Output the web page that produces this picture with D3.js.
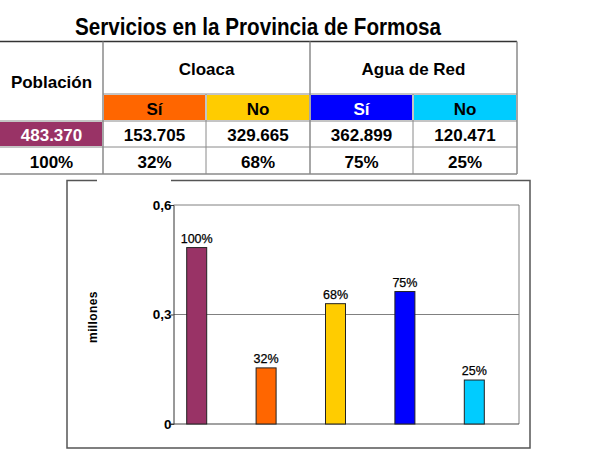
<!DOCTYPE html>
<html><head><meta charset="utf-8">
<script src="https://cdn.jsdelivr.net/npm/d3@7"></script>
<style>
html,body{margin:0;padding:0;background:#fff;}
svg{display:block;font-family:"Liberation Sans",Arial,Helvetica,sans-serif;}
</style></head>
<body>
<svg id="chart" width="606" height="452"></svg>
<script>
// ---- data ----
const title = "Servicios en la Provincia de Formosa";
const groupHeaders = ["Cloaca", "Agua de Red"];
const subHeaders = ["Sí", "No", "Sí", "No"];
const categories = ["Población", "Cloaca Sí", "Cloaca No", "Agua Sí", "Agua No"];
const values = [483370, 153705, 329665, 362899, 120471];
const valueLabels = ["483.370", "153.705", "329.665", "362.899", "120.471"];
const pctLabels = ["100%", "32%", "68%", "75%", "25%"];
const colors = ["#993366", "#FF6600", "#FFCC00", "#0000FF", "#00CCFF"];
const yTicks = [0, 0.3, 0.6];
const yTickLabels = ["0", "0,3", "0,6"];
const yTitle = "millones";

const svg = d3.select("#chart");

// ---- title ----
svg.append("text").attr("x", 258).attr("y", 35).attr("text-anchor", "middle")
  .attr("font-size", 23).attr("font-weight", "bold").attr("fill", "#000")
  .attr("textLength", 366).attr("lengthAdjust", "spacingAndGlyphs").text(title);

// ---- table ----
const colEdges = [0, 103, 206, 310, 413, 517];
const rowEdges = [41.5, 94, 121, 147, 174];
const tg = svg.append("g");
subHeaders.forEach((s, i) => {
  tg.append("rect").attr("x", colEdges[i + 1] + 1).attr("y", rowEdges[1] + 1)
    .attr("width", colEdges[i + 2] - colEdges[i + 1] - 2).attr("height", rowEdges[2] - rowEdges[1] - 2)
    .attr("fill", colors[i + 1]);
});
tg.append("rect").attr("x", 0).attr("y", rowEdges[2] + 1).attr("width", colEdges[1] - 1)
  .attr("height", rowEdges[3] - rowEdges[2] - 2).attr("fill", colors[0]);

const gridCol = "#8a8a8a";
tg.append("line").attr("x1", 0).attr("x2", colEdges[5]).attr("y1", rowEdges[0]).attr("y2", rowEdges[0])
  .attr("stroke", "#333").attr("stroke-width", 1.5);
tg.append("line").attr("x1", colEdges[1]).attr("x2", colEdges[5]).attr("y1", rowEdges[1]).attr("y2", rowEdges[1])
  .attr("stroke", gridCol);
[2, 3].forEach(r => tg.append("line").attr("x1", 0).attr("x2", colEdges[5]).attr("y1", rowEdges[r]).attr("y2", rowEdges[r])
  .attr("stroke", gridCol));
tg.append("line").attr("x1", 0).attr("x2", colEdges[5]).attr("y1", rowEdges[4]).attr("y2", rowEdges[4])
  .attr("stroke", gridCol).attr("stroke-width", 1.5);
[1, 3, 5].forEach(c => tg.append("line").attr("x1", colEdges[c]).attr("x2", colEdges[c])
  .attr("y1", rowEdges[0]).attr("y2", rowEdges[4]).attr("stroke", gridCol).attr("stroke-width", 1.5));
[2, 4].forEach(c => tg.append("line").attr("x1", colEdges[c]).attr("x2", colEdges[c])
  .attr("y1", rowEdges[1]).attr("y2", rowEdges[4]).attr("stroke", gridCol));

const tfs = 17;
function cellText(x, y, txt, fill) {
  tg.append("text").attr("x", x).attr("y", y).attr("text-anchor", "middle")
    .attr("font-size", tfs).attr("font-weight", "bold").attr("fill", fill || "#000").text(txt);
}
cellText(colEdges[0] + 51.5, 88, "Población");
groupHeaders.forEach((g, i) => cellText((colEdges[1 + 2 * i] + colEdges[3 + 2 * i]) / 2, 75, g));
subHeaders.forEach((s, i) => cellText((colEdges[i + 1] + colEdges[i + 2]) / 2, 115, s, i === 2 ? "#fff" : "#000"));
valueLabels.forEach((v, i) => cellText((colEdges[i] + colEdges[i + 1]) / 2, 140.5, v, i === 0 ? "#fff" : "#000"));
pctLabels.forEach((v, i) => cellText((colEdges[i] + colEdges[i + 1]) / 2, 167.5, v));

// ---- chart frame (with gap at top) ----
const fL = 67, fR = 530, fT = 180.5, fB = 448;
svg.append("path").attr("d", `M97,${fT} H${fL} V${fB} H${fR} V${fT} H171`)
  .attr("fill", "none").attr("stroke", "#555").attr("stroke-width", 1.5);

// ---- plot ----
const pL = 173.5, pR = 519, pT = 205, pB = 424;
const y = d3.scaleLinear().domain([0, 0.6]).range([pB, pT]);
const x = d3.scaleBand().domain(categories).range([162, 509]).padding(0);
const barW = 20;

svg.append("path").attr("d", `M${pL},${pT} H${pR} V${pB}`).attr("fill", "none")
  .attr("stroke", "#808080").attr("stroke-width", 1);
svg.append("g").selectAll("line").data(yTicks.filter(t => t > 0 && t < 0.6)).join("line")
  .attr("x1", pL).attr("x2", pR).attr("y1", d => y(d)).attr("y2", d => y(d))
  .attr("stroke", "#808080").attr("stroke-width", 1);

const yAxis = d3.axisLeft(y).tickValues(yTicks).tickSize(3).tickFormat((d, i) => yTickLabels[i]);
const ya = svg.append("g").attr("transform", `translate(${pL},0)`).call(yAxis);
ya.select(".domain").attr("stroke", "#333").attr("stroke-width", 1);
ya.selectAll(".tick line").attr("stroke", "#333");
ya.selectAll(".tick text").attr("font-size", 13.5).attr("font-weight", "bold")
  .attr("font-family", "Liberation Sans, Arial, sans-serif").attr("fill", "#000").attr("x", -2);

svg.append("line").attr("x1", pL - 3).attr("x2", pR).attr("y1", pB).attr("y2", pB)
  .attr("stroke", "#444").attr("stroke-width", 1.2);

const data = categories.map((c, i) => ({ c, v: values[i] / 1e6, label: pctLabels[i], color: colors[i] }));
svg.append("g").selectAll("rect").data(data).join("rect")
  .attr("x", d => x(d.c) + x.bandwidth() / 2 - barW / 2)
  .attr("y", d => y(d.v))
  .attr("width", barW)
  .attr("height", d => pB - y(d.v))
  .attr("fill", d => d.color)
  .attr("stroke", "#222").attr("stroke-width", 1);

svg.append("g").selectAll("text").data(data).join("text")
  .attr("x", d => x(d.c) + x.bandwidth() / 2)
  .attr("y", d => y(d.v) - 5)
  .attr("text-anchor", "middle").attr("font-size", 12.5).attr("fill", "#000")
  .attr("stroke", "#000").attr("stroke-width", 0.25)
  .text(d => d.label);

svg.append("text").attr("transform", `translate(97,317) rotate(-90)`)
  .attr("text-anchor", "middle").attr("font-size", 12).attr("font-weight", "bold")
  .attr("letter-spacing", 0.4).text(yTitle);
</script>
</body></html>
